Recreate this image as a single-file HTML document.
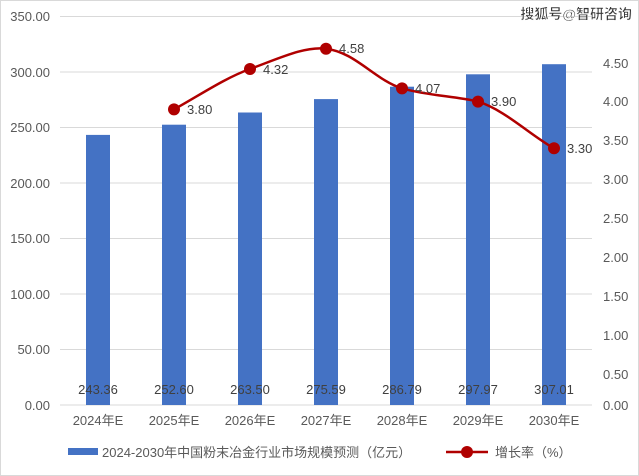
<!DOCTYPE html><html><head><meta charset="utf-8"><style>body{margin:0;background:#fff}svg{display:block;font-family:"Liberation Sans","Noto Sans CJK SC",sans-serif}</style></head><body>
<svg width="639" height="476" xmlns="http://www.w3.org/2000/svg">
<rect x="0.5" y="0.5" width="638" height="475" fill="#fff" stroke="#d9d9d9"/>
<g stroke="#d9d9d9" stroke-width="1">
<line x1="60" x2="592" y1="16.5" y2="16.5"/><line x1="60" x2="592" y1="72" y2="72"/><line x1="60" x2="592" y1="127.5" y2="127.5"/><line x1="60" x2="592" y1="183" y2="183"/><line x1="60" x2="592" y1="238.5" y2="238.5"/><line x1="60" x2="592" y1="294" y2="294"/><line x1="60" x2="592" y1="349.5" y2="349.5"/><line x1="60" x2="592" y1="405" y2="405"/>
</g>
<g font-size="13" fill="#595959" text-anchor="end">
<text x="50" y="21">350.00</text><text x="50" y="77">300.00</text><text x="50" y="132">250.00</text><text x="50" y="188">200.00</text><text x="50" y="243">150.00</text><text x="50" y="299">100.00</text><text x="50" y="354">50.00</text><text x="50" y="410">0.00</text>
</g>
<g font-size="13" fill="#595959" text-anchor="start">
<text x="603" y="68">4.50</text><text x="603" y="106">4.00</text><text x="603" y="145">3.50</text><text x="603" y="184">3.00</text><text x="603" y="223">2.50</text><text x="603" y="262">2.00</text><text x="603" y="301">1.50</text><text x="603" y="340">1.00</text><text x="603" y="379">0.50</text><text x="603" y="410">0.00</text>
</g>
<g fill="#4472c4">
<rect x="86" y="134.9" width="24" height="270.1"/>
<rect x="162" y="124.7" width="24" height="280.3"/>
<rect x="238" y="112.5" width="24" height="292.5"/>
<rect x="314" y="99.1" width="24" height="305.9"/>
<rect x="390" y="86.7" width="24" height="318.3"/>
<rect x="466" y="74.3" width="24" height="330.7"/>
<rect x="542" y="64.2" width="24" height="340.8"/>
</g>
<g font-size="13" fill="#404040" text-anchor="middle">
<text x="98" y="394">243.36</text><text x="174" y="394">252.60</text><text x="250" y="394">263.50</text><text x="326" y="394">275.59</text><text x="402" y="394">286.79</text><text x="478" y="394">297.97</text><text x="554" y="394">307.01</text>
</g>
<g font-size="13" fill="#595959" text-anchor="middle">
<text x="98" y="425">2024年E</text><text x="174" y="425">2025年E</text><text x="250" y="425">2026年E</text><text x="326" y="425">2027年E</text><text x="402" y="425">2028年E</text><text x="478" y="425">2029年E</text><text x="554" y="425">2030年E</text>
</g>
<path d="M174,109.4 C200,95 225,78 250,69 C280,58 305,46 326,48.7 C355,52 375,80 402,88.4 C430,96 455,96 478,101.6 C505,110 530,135 554,148.3" fill="none" stroke="#b00000" stroke-width="2.5"/>
<g fill="#b00000">
<circle cx="174" cy="109.4" r="6"/><circle cx="250" cy="69" r="6"/><circle cx="326" cy="48.7" r="6"/><circle cx="402" cy="88.4" r="6"/><circle cx="478" cy="101.6" r="6"/><circle cx="554" cy="148.3" r="6"/>
</g>
<g font-size="13" fill="#404040">
<text x="187" y="114">3.80</text><text x="263" y="74">4.32</text><text x="339" y="53">4.58</text><text x="415" y="93">4.07</text><text x="491" y="106">3.90</text><text x="567" y="153">3.30</text>
</g>
<rect x="68" y="448" width="30" height="7" fill="#4472c4"/>
<text x="102" y="457" font-size="13" fill="#595959">2024-2030年中国粉末冶金行业市场规模预测（亿元）</text>
<line x1="446" x2="488" y1="452" y2="452" stroke="#b00000" stroke-width="2.5"/>
<circle cx="467" cy="452" r="6" fill="#b00000"/>
<text x="495" y="457" font-size="13" fill="#595959">增长率（%）</text>
<text x="632" y="19" font-size="14" font-weight="bold" fill="#333" text-anchor="end" stroke="#fff" stroke-width="0.5">搜狐号@智研咨询</text>
</svg>
</body></html>
